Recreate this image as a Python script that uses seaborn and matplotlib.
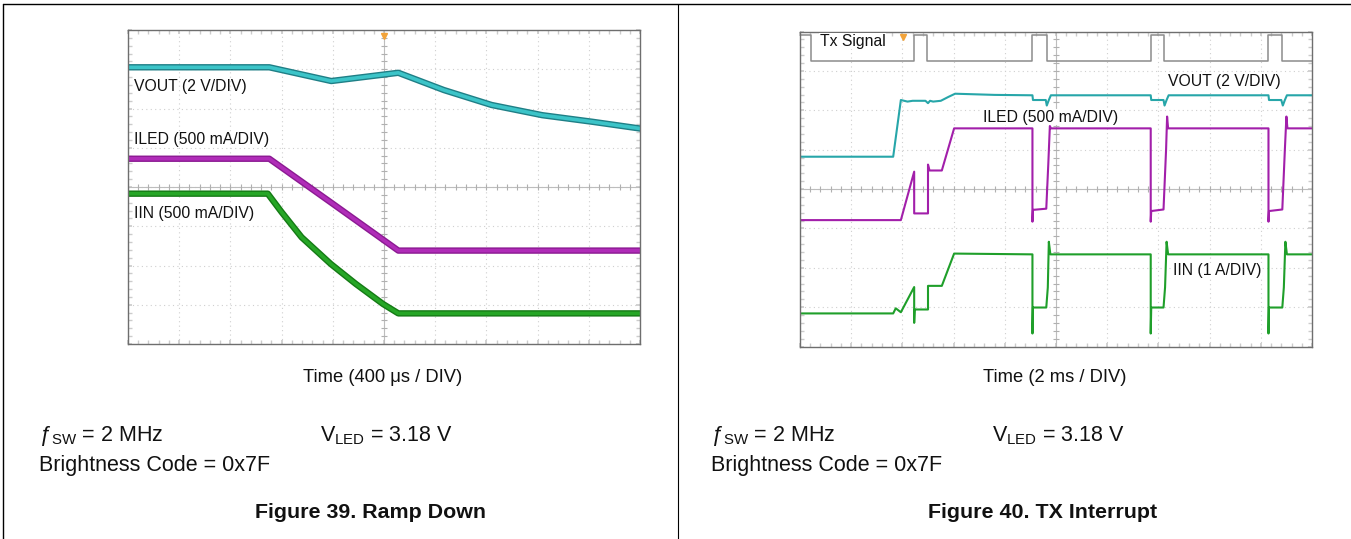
import numpy as np
import matplotlib
matplotlib.use("Agg")
import matplotlib.pyplot as plt
from matplotlib.lines import Line2D
import seaborn as sns

sns.set_theme(style="white")
plt.rcParams['font.family'] = ['Liberation Sans', 'DejaVu Sans']
plt.rcParams['mathtext.fontset'] = 'custom'
plt.rcParams['mathtext.rm'] = 'Liberation Sans'
plt.rcParams['mathtext.it'] = 'Liberation Sans:italic'

# ---- Figure 39 (ramp down), values in scope divisions ----
rd_vout_t = [-5.0, -2.24, -1.03, 0.28, 1.17, 2.10, 3.09, 4.08, 5.0]
rd_vout_v = [3.05, 3.05, 2.70, 2.91, 2.47, 2.09, 1.83, 1.66, 1.49]
rd_iled_t = [-5.0, -2.24, -1.03, 0.28, 5.0]
rd_iled_v = [0.72, 0.72, -0.40, -1.62, -1.62]
rd_iin_t = [-5.0, -2.27, -2.0, -1.61, -1.04, -0.55, -0.02, 0.28, 5.0]
rd_iin_v = [-0.17, -0.17, -0.64, -1.28, -1.96, -2.47, -2.98, -3.22, -3.22]

# ---- Figure 40 (TX interrupt) ----
tx_t = [-5.0, -4.79, -4.79, -2.77, -2.77, -2.51, -2.51, -0.46, -0.46, -0.18,
        -0.18, 1.85, 1.85, 2.11, 2.11, 4.15, 4.15, 4.42, 4.42, 5.0]
tx_v = [3.92, 3.92, 3.26, 3.26, 3.92, 3.92, 3.26, 3.26, 3.92, 3.92,
        3.26, 3.26, 3.92, 3.92, 3.26, 3.26, 3.92, 3.92, 3.26, 3.26]

ti_vout_t = [-5.0, -3.18, -3.03, -2.90, -2.80, -2.55, -2.50, -2.46, -2.40, -2.25,
             -2.10, -1.97, -1.20, -0.46, -0.45, -0.20, -0.18, -0.14, -0.10, 1.00,
             1.85, 1.86, 2.10, 2.12, 2.16, 2.20, 3.30, 4.15, 4.16, 4.40,
             4.43, 4.47, 4.51, 5.0]
ti_vout_v = [0.82, 0.82, 2.26, 2.22, 2.24, 2.24, 2.18, 2.24, 2.22, 2.24,
             2.34, 2.42, 2.39, 2.38, 2.26, 2.26, 2.12, 2.26, 2.38, 2.38,
             2.38, 2.26, 2.26, 2.12, 2.26, 2.38, 2.38, 2.38, 2.26, 2.26,
             2.12, 2.26, 2.38, 2.38]

ti_iled_t = [-5.0, -3.03, -2.77, -2.77, -2.50, -2.50, -2.47, -2.23, -1.99, -0.46,
             -0.46, -0.45, -0.19, -0.15, -0.12, -0.10, 1.85, 1.85, 1.86, 2.10,
             2.15, 2.17, 2.19, 4.15, 4.15, 4.16, 4.42, 4.47, 4.50, 4.52, 5.0]
ti_iled_v = [-0.79, -0.79, 0.44, -0.62, -0.62, 0.62, 0.47, 0.47, 1.54, 1.54,
             -0.83, -0.53, -0.50, 0.65, 1.60, 1.54, 1.54, -0.83, -0.56, -0.52,
             1.00, 1.84, 1.54, 1.54, -0.83, -0.56, -0.52, 1.00, 1.84, 1.54, 1.54]

ti_iin_t = [-5.0, -3.18, -3.13, -3.03, -2.77, -2.77, -2.76, -2.50, -2.50, -2.23,
            -1.99, -0.46, -0.46, -0.45, -0.19, -0.16, -0.14, -0.11, 1.85, 1.85,
            1.86, 2.10, 2.13, 2.16, 2.19, 4.15, 4.15, 4.16, 4.42, 4.45,
            4.48, 4.51, 5.0]
ti_iin_v = [-3.16, -3.16, -3.03, -3.13, -2.49, -3.40, -3.06, -3.06, -2.46, -2.46,
            -1.64, -1.66, -3.67, -3.01, -3.01, -2.50, -1.34, -1.66, -1.66, -3.67,
            -3.01, -3.01, -2.50, -1.34, -1.66, -1.66, -3.67, -3.01, -3.01, -2.50,
            -1.34, -1.66, -1.66]

W, H = 1351, 539


def px(x, y):
    return x / W, 1 - y / H


def scope_axes(rect):
    ax = fig.add_axes(rect)
    ax.set_xlim(-5, 5)
    ax.set_ylim(-4, 4)
    ax.set_xticks(range(-5, 6))
    ax.set_yticks(range(-4, 5))
    ax.set_xticks(np.arange(-5, 5.01, 0.2), minor=True)
    ax.set_yticks(np.arange(-4, 4.01, 0.2), minor=True)
    ax.set_xticklabels([])
    ax.set_yticklabels([])
    ax.tick_params(which='both', direction='in', length=3, color='#cccccc',
                   bottom=True, top=True, left=True, right=True)
    ax.grid(True, which='major', color='#cfcfcf', lw=0.8, linestyle=(0, (1, 3)))
    for s in ax.spines.values():
        s.set_color('#6e6e6e')
        s.set_linewidth(1.0)
    # centre cross with small tick marks
    ax.axhline(0, color='#bdbdbd', lw=0.8)
    ax.axvline(0, color='#bdbdbd', lw=0.8)
    ax.plot(np.arange(-5, 5.01, 0.2), np.zeros(51), '|', ms=4, color='#b0b0b0', mew=0.8)
    ax.plot(np.zeros(41), np.arange(-4, 4.01, 0.2), '_', ms=4, color='#b0b0b0', mew=0.8)
    return ax


def trace(ax, t, v, color, lw, edge=None):
    if edge is not None:
        sns.lineplot(x=t, y=v, ax=ax, color=edge, lw=lw + 2.0, sort=False,
                     estimator=None, solid_joinstyle='round')
    sns.lineplot(x=t, y=v, ax=ax, color=color, lw=lw, sort=False,
                 estimator=None, solid_joinstyle='round')


fig = plt.figure(figsize=(W / 100, H / 100), dpi=100)

# outer frame
fig.add_artist(Line2D([3 / W, 1], [1 - 4 / H, 1 - 4 / H], color='black', lw=1))
fig.add_artist(Line2D([3 / W, 3 / W], [0, 1 - 4 / H], color='black', lw=1))
fig.add_artist(Line2D([678 / W, 678 / W], [0, 1 - 4 / H], color='black', lw=0.8))

# left scope
ax1 = scope_axes([128 / W, (H - 344) / H, 512 / W, 314 / H])
trace(ax1, rd_vout_t, rd_vout_v, '#3cc4c8', 2.6, edge='#1f7f86')
trace(ax1, rd_iled_t, rd_iled_v, '#b02cb8', 2.6, edge='#8b1a92')
trace(ax1, rd_iin_t, rd_iin_v, '#26a626', 2.6, edge='#157a15')
ax1.plot([0], [3.85], marker='v', ms=5, color='#f2a33a', clip_on=False)
lab = dict(fontsize=11.3, color='#111111', va='center', ha='left')
ax1.text(-4.89, 2.56, 'VOUT (2 V/DIV)', **lab)
ax1.text(-4.89, 1.21, 'ILED (500 mA/DIV)', **lab)
ax1.text(-4.89, -0.67, 'IIN (500 mA/DIV)', **lab)

# right scope
ax2 = scope_axes([800 / W, (H - 346.5) / H, 512 / W, 315 / H])
trace(ax2, tx_t, tx_v, '#8c8c8c', 1.1)
trace(ax2, ti_vout_t, ti_vout_v, '#27a6a9', 1.5)
trace(ax2, ti_iled_t, ti_iled_v, '#a21faa', 1.5)
trace(ax2, ti_iin_t, ti_iin_v, '#1f9f2a', 1.5)
ax2.plot([-2.99], [3.85], marker='v', ms=5, color='#f2a33a', clip_on=False)
box = dict(facecolor='white', edgecolor='none', pad=0.5)
ax2.text(-4.61, 3.75, 'Tx Signal', bbox=box, **lab)
ax2.text(2.19, 2.73, 'VOUT (2 V/DIV)', bbox=box, **lab)
ax2.text(-1.43, 1.82, 'ILED (500 mA/DIV)', bbox=box, **lab)
ax2.text(2.29, -2.08, 'IIN (1 A/DIV)', bbox=box, **lab)

# captions and conditions
for cx, fig_no, title, tlab in [(0, 39, 'Ramp Down', 'Time (400 μs / DIV)'),
                                (672, 40, 'TX Interrupt', 'Time (2 ms / DIV)')]:
    fig.text(*px(383 + cx, 378), tlab, fontsize=13.2, ha='center', va='center', color='#111111')
    fig.text(*px(38.8 + cx, 436), r'ƒ$_{\mathrm{SW}}$ = 2 MHz', fontsize=15.5,
             ha='left', va='center', color='#111111')
    fig.text(*px(320.5 + cx, 436), r'V$_{\mathrm{LED}}$ = 3.18 V', fontsize=15.5,
             ha='left', va='center', color='#111111')
    fig.text(*px(38.8 + cx, 465), 'Brightness Code = 0x7F', fontsize=15.5,
             ha='left', va='center', color='#111111')
    fig.text(*px(371 + cx, 513), f'Figure {fig_no}. {title}', fontsize=15.4,
             fontweight='bold', ha='center', va='center', color='#111111')

fig.savefig('out.png', dpi=100)
